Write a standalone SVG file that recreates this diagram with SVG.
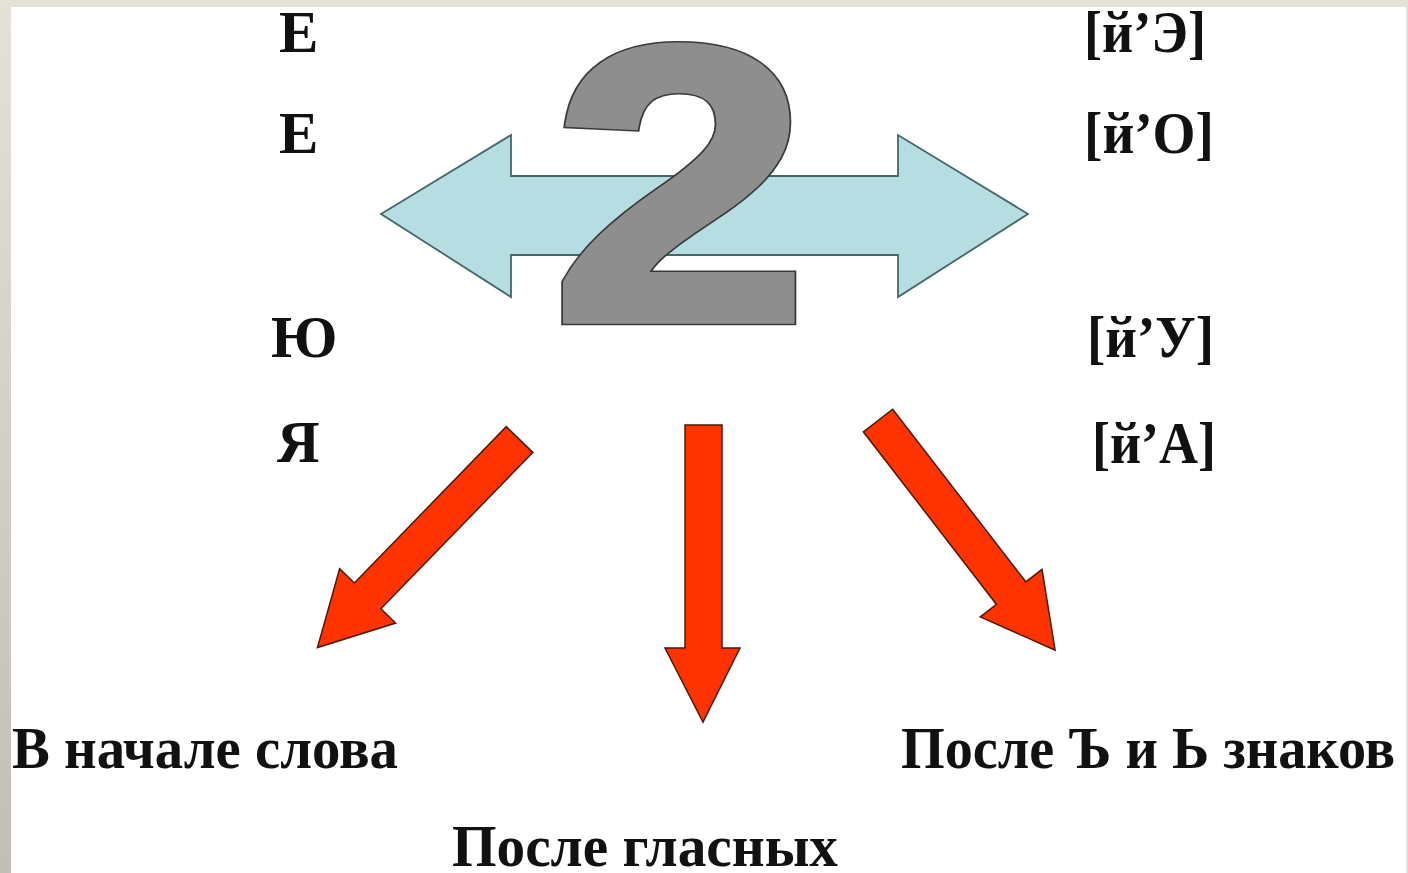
<svg xmlns="http://www.w3.org/2000/svg" width="1408" height="873" viewBox="0 0 1408 873">
  <defs>
    <linearGradient id="sideGrad" x1="0" y1="0" x2="0" y2="1">
      <stop offset="0" stop-color="#e6e1d7"/>
      <stop offset="1" stop-color="#c3beb3"/>
    </linearGradient>
    <polygon id="redArrowShape" points="0,-18.5 218,-18.5 218,-39 290,0 218,39 218,18.5 0,18.5"/>
  </defs>
  <style>
    .lbl { font-family: "Liberation Serif", "Times New Roman", serif; font-weight: bold; font-size: 59px; fill: #111111; }
    .red { fill: #ff3300; stroke: #4a1a0a; stroke-width: 1.5; stroke-linejoin: miter; }
    .cyan { fill: #b6dde2; stroke: #43686a; stroke-width: 1.8; }
    .two { font-family: "Liberation Sans", Arial, sans-serif; font-weight: bold; font-size: 392px; stroke-linejoin: miter; stroke-miterlimit: 3; }
    .two-outline { fill: #3a3a3a; stroke: #3a3a3a; stroke-width: 10.5; }
    .two-fill { fill: #8e8e8e; stroke: #8e8e8e; stroke-width: 7.5; }
  </style>

  <rect x="0" y="0" width="1408" height="873" fill="#ffffff"/>
  <rect x="0" y="0" width="1408" height="7" fill="#e6e1d7"/>
  <rect x="0" y="0" width="11" height="873" fill="url(#sideGrad)"/>
  <rect x="1406" y="0" width="2" height="873" fill="#e6e1d7"/>

  <g id="double-arrow">
    <polygon class="cyan" points="381,214 511,135 511,176 898,176 898,135 1028,214 898,297 898,255 511,255 511,297"/>
  </g>

  <g id="digit-two" transform="translate(680,320) scale(1.18,1)">
    <text class="two two-outline" x="0" y="0" text-anchor="middle">2</text>
    <text class="two two-fill" x="0" y="0" text-anchor="middle">2</text>
  </g>

  <g id="connectors">
    <use href="#redArrowShape" class="red" transform="translate(519.5,439.5) rotate(134.16)"/>
    <polygon class="red" points="685,425 722,425 722,648 740,648 703,722 665,648 685,648"/>
    <use href="#redArrowShape" class="red" transform="translate(878,420.5) rotate(52.36)"/>
  </g>

  <g id="left-letters">
    <text class="lbl" x="279" y="52">Е</text>
    <text class="lbl" x="279" y="153">Е</text>
    <text class="lbl" x="271" y="357">Ю</text>
    <text class="lbl" x="277" y="462">Я</text>
  </g>

  <g id="right-sounds">
    <text class="lbl" x="1084" y="52" textLength="122" lengthAdjust="spacingAndGlyphs">[й’Э]</text>
    <text class="lbl" x="1084" y="153" textLength="130" lengthAdjust="spacingAndGlyphs">[й’О]</text>
    <text class="lbl" x="1087" y="357" textLength="127" lengthAdjust="spacingAndGlyphs">[й’У]</text>
    <text class="lbl" x="1092" y="463" textLength="124" lengthAdjust="spacingAndGlyphs">[й’А]</text>
  </g>

  <g id="label-start">
    <text class="lbl" x="12" y="768" textLength="386" lengthAdjust="spacingAndGlyphs">В начале слова</text>
  </g>
  <g id="label-vowels">
    <text class="lbl" x="452" y="866" textLength="386" lengthAdjust="spacingAndGlyphs">После гласных</text>
  </g>
  <g id="label-signs">
    <text class="lbl" x="901" y="768" textLength="494" lengthAdjust="spacingAndGlyphs">После Ъ и Ь знаков</text>
  </g>
</svg>
